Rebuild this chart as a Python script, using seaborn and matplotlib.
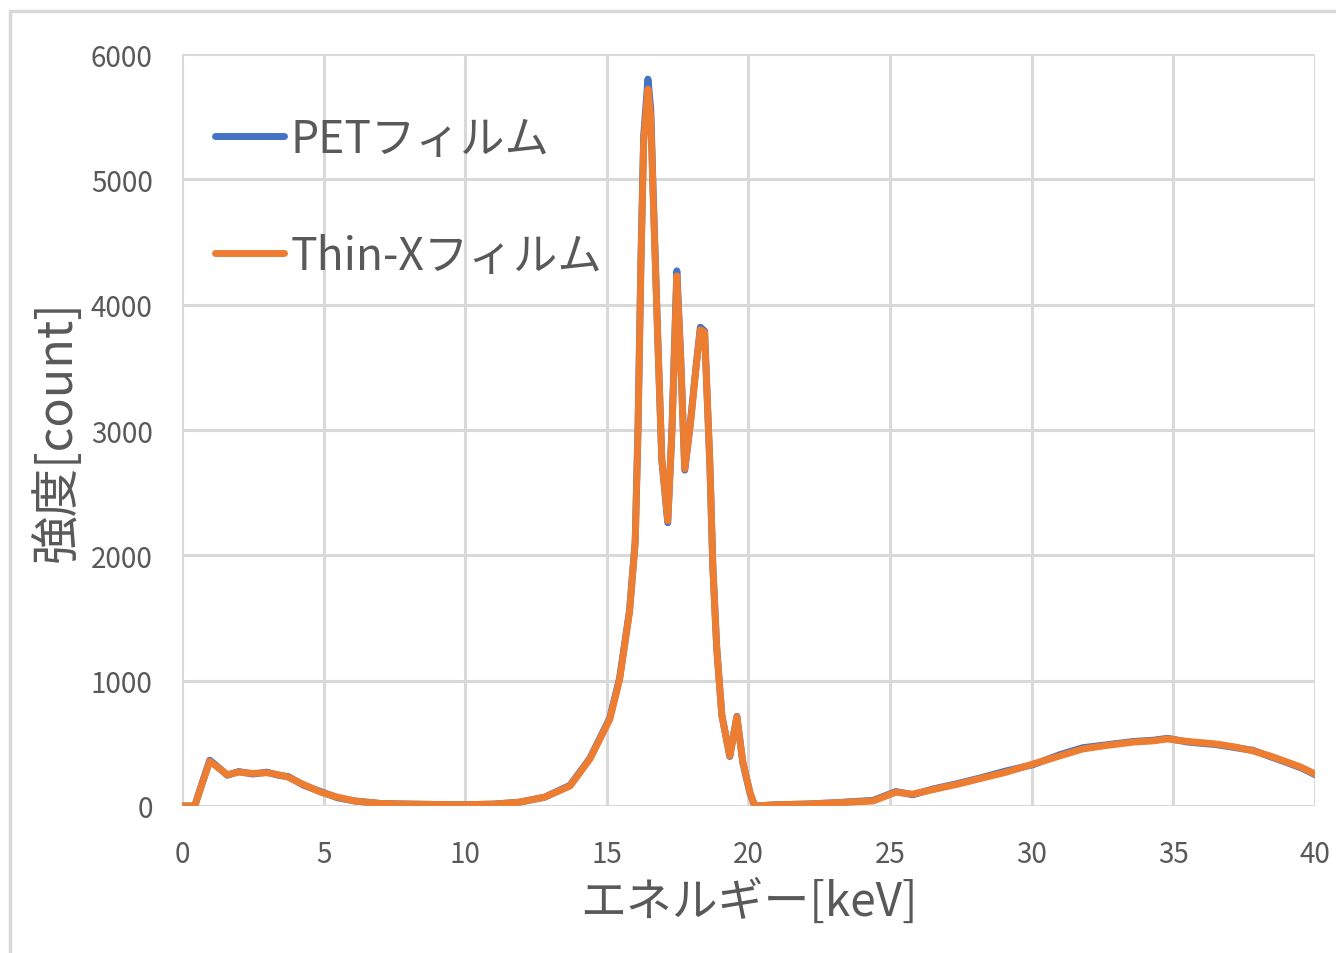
import matplotlib
matplotlib.use("Agg")
import matplotlib.pyplot as plt
import seaborn as sns
from matplotlib.patches import Rectangle

# energy axis [keV] and counts
energy = [0, 0.45, 0.7, 0.98, 1.2, 1.6, 2.0, 2.5, 3.0, 3.4, 3.75, 4.3, 4.9, 5.5, 6.1,
          7, 8, 9, 10, 11, 11.9, 12.8, 13.7, 14.4, 15.1, 15.45, 15.8, 16.0, 16.1, 16.2,
          16.3, 16.45, 16.55, 16.63, 16.8, 16.94, 17.15, 17.3, 17.47, 17.6, 17.75,
          17.95, 18.15, 18.3, 18.45, 18.64, 18.74, 18.88, 19.06, 19.34, 19.59, 19.8,
          20.05, 20.22, 21, 22, 23, 24.4, 25.2, 25.8, 26.5, 27.4, 28.2, 29.1, 30.05,
          31, 31.8, 32.7, 33.6, 34.3, 34.8, 35.5, 36.5, 37.2, 37.8, 38.4, 38.9, 39.5, 40]

thinx = [0, 0, 170, 355, 320, 250, 270, 260, 265, 250, 230, 170, 110, 70, 40,
         20, 15, 12, 10, 15, 30, 70, 160, 375, 690, 1010, 1550, 2100, 3000, 4300,
         5300, 5720, 5500, 4900, 3700, 2770, 2275, 3000, 4230, 3600, 2690,
         3050, 3500, 3800, 3780, 2710, 1915, 1250, 720, 400, 710, 350,
         110, 0, 10, 15, 25, 40, 110, 95, 130, 175, 220, 270, 335,
         400, 455, 485, 510, 520, 535, 515, 495, 470, 440, 400, 360, 310, 255]

pet = [0, 0, 175, 365, 325, 245, 275, 255, 270, 245, 235, 165, 115, 65, 40,
       20, 15, 12, 10, 15, 30, 70, 165, 380, 700, 1020, 1560, 2110, 3020, 4320,
       5350, 5800, 5560, 4930, 3720, 2760, 2260, 3020, 4270, 3620, 2680,
       3060, 3510, 3820, 3790, 2700, 1920, 1255, 725, 395, 715, 345,
       105, 0, 10, 15, 25, 45, 115, 90, 135, 180, 225, 280, 330,
       410, 465, 490, 515, 525, 540, 510, 490, 465, 445, 395, 355, 305, 250]

series_names = ["PETフィルム", "Thin-Xフィルム"]
x_ticks = [0, 5, 10, 15, 20, 25, 30, 35, 40]
y_ticks = [0, 1000, 2000, 3000, 4000, 5000, 6000]

sns.set_style("white")
plt.rcParams['font.family'] = ['Noto Sans CJK JP', 'DejaVu Sans']

fig = plt.figure(figsize=(13.36, 9.54), dpi=100)
ax = fig.add_axes([0.1362, 0.1541, 0.8481, 0.7882])

sns.lineplot(x=energy, y=pet, color="#4472C4", linewidth=5, label=series_names[0],
             sort=False, ax=ax)
sns.lineplot(x=energy, y=thinx, color="#ED7D31", linewidth=5, label=series_names[1],
             sort=False, ax=ax)

ax.set_xlim(0, 40)
ax.set_ylim(0, 6000)
ax.set_xticks(x_ticks)
ax.set_yticks(y_ticks)
ax.grid(True, color="#d9d9d9", linewidth=2.2)
ax.set_axisbelow(True)
for s in ax.spines.values():
    s.set_visible(False)
ax.tick_params(axis="both", length=0, labelsize=20, colors="#595959")
ax.tick_params(axis="x", pad=24)
ax.tick_params(axis="y", pad=21)

ax.set_xlabel("エネルギー[keV]", fontsize=33, color="#595959")
ax.set_ylabel("強度[count]", fontsize=35, color="#595959", va="center", ha="center")
ax.xaxis.set_label_coords(0.5, -0.095)
ax.yaxis.set_label_coords(-0.11, 0.5)

leg = ax.legend(loc="upper left", bbox_to_anchor=(0.029, 0.918), frameon=False,
                fontsize=32, handlelength=1.55, handletextpad=0.15,
                labelspacing=1.6, borderpad=0, borderaxespad=0)
for t in leg.get_texts():
    t.set_color("#595959")

# light border around the whole chart area
fig.patches.append(Rectangle((10 / 1336, -0.1), 1.2, 1.0874, transform=fig.transFigure,
                             fill=False, edgecolor="#d9d9d9", linewidth=2.5, clip_on=False))

fig.savefig("out.png", dpi=100)
